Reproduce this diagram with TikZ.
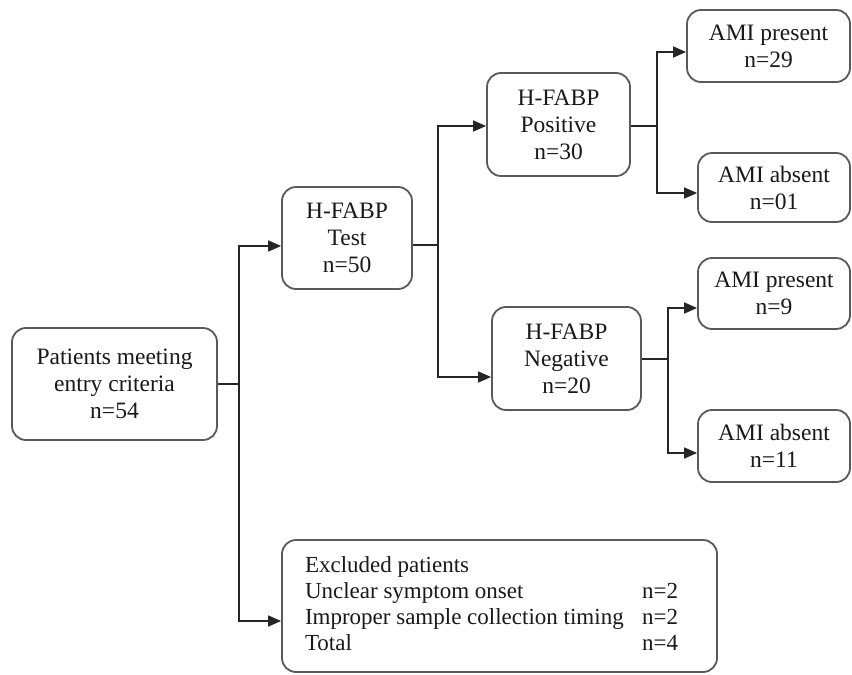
\documentclass[tikz,border=0pt]{standalone}
\usepackage{fontspec}
\setmainfont{Liberation Serif}
\newfontfamily\tnrfont{Liberation Serif}
\usetikzlibrary{arrows.meta}
\begin{document}
\begin{tikzpicture}[x=1pt,y=-1pt,
  box/.style={draw=black!65, line width=1.8pt, rounded corners=14pt, fill=white,
    align=center, inner sep=0pt, text=black!90,
    font=\tnrfont\fontsize{23.5}{27}\selectfont},
  conn/.style={draw=black!85, line width=1.6pt},
  arr/.style={conn, -{Triangle[length=13pt,width=11pt]}}]
\useasboundingbox (0,0) rectangle (852,675);
\node[box, minimum width=205pt, minimum height=112pt] (b1) at (114.5,384) {Patients meeting\\entry criteria\\n=54};
\node[box, minimum width=130pt, minimum height=102pt] (b2) at (347,238) {H-FABP\\Test\\n=50};
\node[box, minimum width=143pt, minimum height=103pt] (b3) at (558.5,124.5) {H-FABP\\Positive\\n=30};
\node[box, minimum width=163pt, minimum height=72pt] (b4) at (768.5,46) {AMI present\\n=29};
\node[box, minimum width=152pt, minimum height=69pt] (b5) at (774,187.5) {AMI absent\\n=01};
\node[box, minimum width=149pt, minimum height=103pt] (b6) at (566.5,358.5) {H-FABP\\Negative\\n=20};
\node[box, minimum width=152pt, minimum height=71pt] (b7) at (774,293.5) {AMI present\\n=9};
\node[box, minimum width=152pt, minimum height=72pt] (b8) at (774,446) {AMI absent\\n=11};
\node[box, minimum width=435pt, minimum height=132pt] (b9) at (499.5,606) {};
\node[inner sep=0pt, text=black!90, font=\tnrfont\fontsize{23}{26}\selectfont] (b9t) at (491.5,606.5)
  {\begin{tabular*}{373pt}{@{}l@{\extracolsep{\fill}}r@{}}
   Excluded patients & \\
   Unclear symptom onset & n=2\\
   Improper sample collection timing & n=2\\
   Total & n=4
   \end{tabular*}};
% connectors
\draw[conn] (b1.east) -- ++(21,0) coordinate (j1);
\draw[arr] (j1) |- ([yshift=-8pt]b2.west);
\draw[arr] (j1) |- ([yshift=-15pt]b9.west);
\draw[conn] ([yshift=-7pt]b2.east) -- ++(25,0) coordinate (j2);
\draw[arr] (j2) |- ([yshift=-1.5pt]b3.west);
\draw[arr] (j2) |- ([yshift=-18.5pt]b6.west);
\draw[conn] ([yshift=-1.5pt]b3.east) -- ++(26,0) coordinate (j3);
\draw[arr] (j3) |- ([yshift=-6pt]b4.west);
\draw[arr] (j3) |- ([yshift=-5.5pt]b5.west);
\draw[conn] ([yshift=-0.5pt]b6.east) -- ++(26,0) coordinate (j4);
\draw[arr] (j4) |- ([yshift=-14.5pt]b7.west);
\draw[arr] (j4) |- ([yshift=-7pt]b8.west);
\end{tikzpicture}
\end{document}
